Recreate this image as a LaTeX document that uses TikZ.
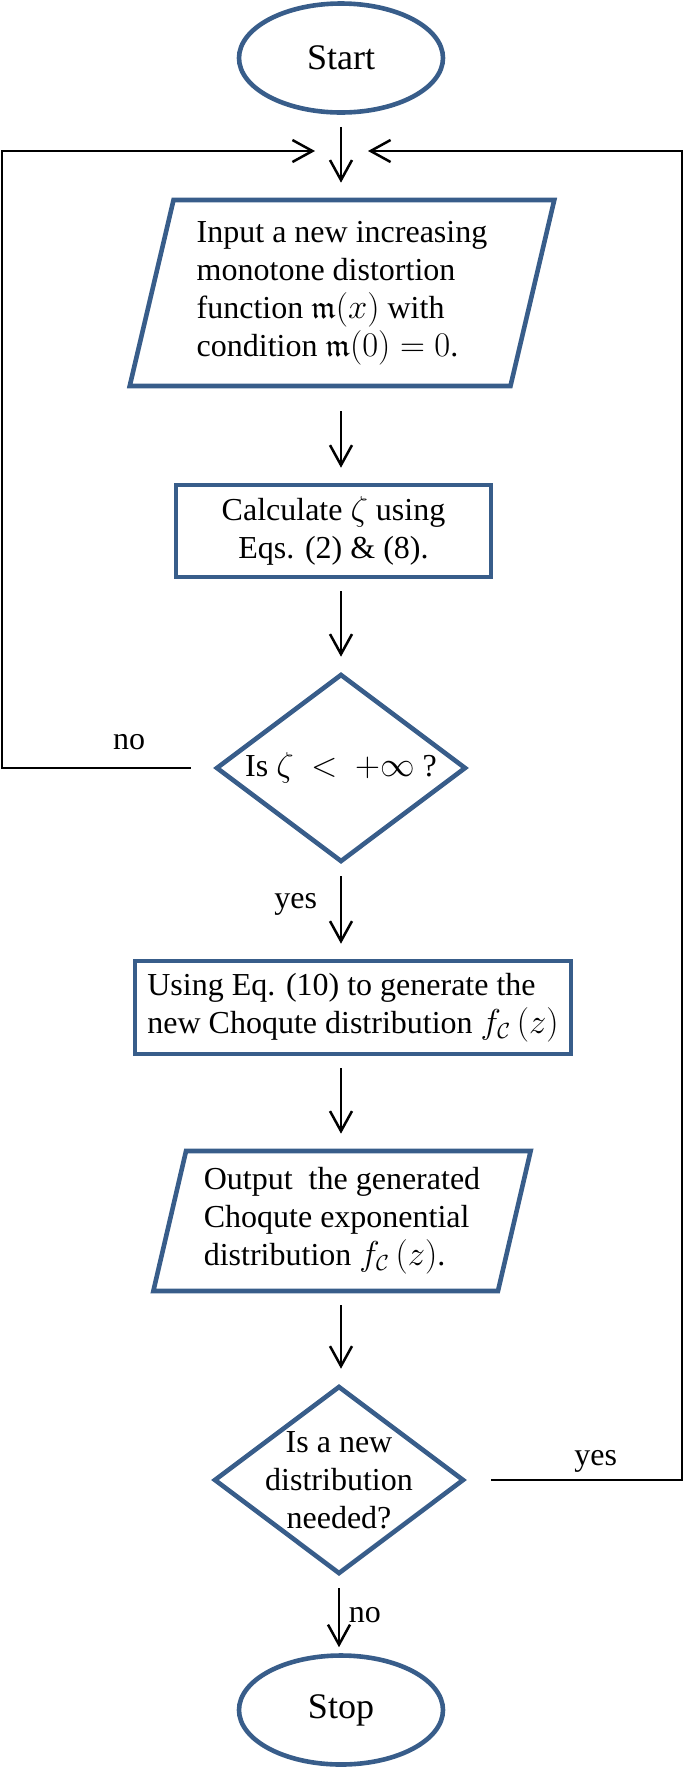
\documentclass[tikz,border=0pt]{standalone}
\usepackage[no-math]{fontspec}
\setmainfont{Liberation Serif}
\usepackage{amsmath,amssymb}
\usetikzlibrary{shapes.geometric,arrows.meta}
\definecolor{shapeblue}{RGB}{56,93,138}

\begin{document}
\begin{tikzpicture}[x=0.5pt,y=-0.5pt,every node/.style={font=\fontsize{16}{19}\selectfont},box/.style={draw=shapeblue,line width=2.3pt,inner sep=4pt},term/.style={box,ellipse,minimum width=102pt,minimum height=54.5pt,font=\fontsize{18}{21}\selectfont},io/.style={box,trapezium,trapezium left angle=76,trapezium right angle=104,trapezium stretches=true,align=left},proc/.style={box,rectangle,align=center},decide/.style={box,diamond,shape aspect=1.33,minimum width=125pt,minimum height=94pt,inner sep=0pt},link/.style={line width=1.25pt,-{Straight Barb[length=10pt,width=11pt,line width=1.25pt]}},flow/.style={link,shorten <=6pt,shorten >=7.5pt}]
\useasboundingbox (0,0) rectangle (685,1768);
\node[term] (start) at (341,58) {Start};
\node[io,minimum width=212.5pt,minimum height=93pt] (input) at (342,293) {Input a new increasing\\monotone distortion\\function $\mathfrak{m}(x)$ with\\condition $\mathfrak{m}(0) = 0$.};
\node[proc,minimum width=157.5pt,minimum height=46pt] (calc) at (333.5,531) {Calculate $\zeta$ using\\Eqs. (2) \& (8).};
\node[decide] (check) at (341,768) {Is $\zeta\ <\ +\infty$ ?};
\node[proc,align=left,minimum width=218pt,minimum height=46.5pt] (gen) at (353,1007.5) {Using Eq. (10) to generate the\\new Choqute distribution $f_{\mathcal{C}}\left(z\right)$};
\node[io,minimum width=189pt,minimum height=70pt] (output) at (342,1221) {Output\ \ the generated\\Choqute exponential\\distribution $f_{\mathcal{C}}\left(z\right)$.};
\node[decide,label={[align=center]center:Is a new\\distribution\\needed?}] (again) at (339,1480) {};
\node[term] (stop) at (341,1710) {Stop};
\coordinate (merge) at (341,151);
\coordinate (noturn) at (2,151);
\coordinate (yesturn) at (682,151);
\draw[flow] (start) -- (start |- input.north);
\draw[flow,shorten <=11.5pt] (input.south -| start) -- (start |- calc.north);
\draw[flow] (calc.south -| check) -- (check);
\draw[flow] (check) -- node[pos=0.43,left=8pt] {yes} (check |- gen.north);
\draw[flow] (gen.south -| check) -- (check |- output.north);
\draw[flow] (check |- output.south) -- (check |- again.north);
\draw[flow,shorten >=3pt] (again) -- node[right=1pt] {no} (again |- stop.north);
% feedback lines
\draw[link,shorten <=11.5pt,shorten >=13pt] (check) -| node[pos=0.2,above=5pt] {no} (noturn) -- (merge);
\draw[link,shorten <=12.5pt,shorten >=13.5pt] (again) -| node[pos=0.3,above] {yes} (yesturn) -- (merge);
\end{tikzpicture}
\end{document}
